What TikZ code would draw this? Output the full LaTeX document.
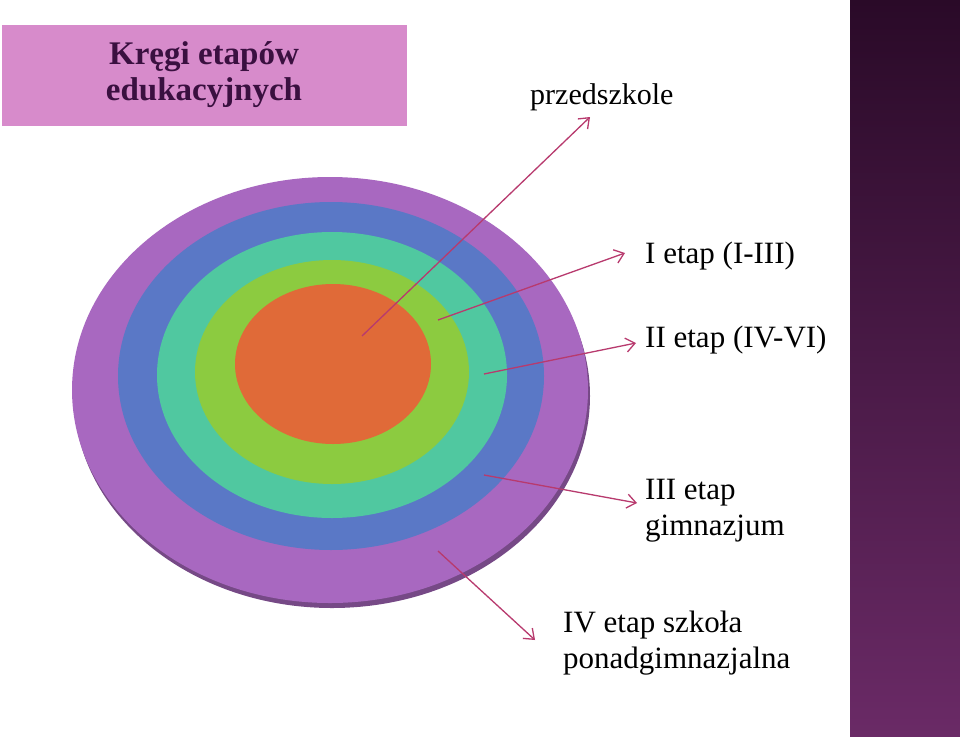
\documentclass[tikz,border=0pt]{standalone}
\usepackage{fontspec}
\setmainfont{Liberation Serif}
\begin{document}
\begin{tikzpicture}[x=1pt,y=-1pt,
  arr/.style={draw=arrowc,line width=1.3pt,-{Straight Barb[length=9pt,width=14pt]}},
  lab/.style={anchor=west,inner sep=0pt,font=\fontsize{31}{36}\selectfont,align=left}]
\usetikzlibrary{arrows.meta}
\definecolor{arrowc}{HTML}{B83A6E}
\definecolor{pinkbox}{HTML}{D78BCB}
\definecolor{titlec}{HTML}{3A1040}
\definecolor{outerc}{HTML}{A868C0}
\definecolor{bluec}{HTML}{5A78C6}
\definecolor{tealc}{HTML}{50C8A0}
\definecolor{greenc}{HTML}{8CCB40}
\definecolor{orangec}{HTML}{E06A38}
\definecolor{stripTop}{HTML}{2A0A28}
\definecolor{stripBot}{HTML}{6A2A66}
\useasboundingbox (0,0) rectangle (960,736);
\fill[white] (0,0) rectangle (960,736);
\shade[top color=stripTop,bottom color=stripBot] (850,0) rectangle (960,736);
\node[fill=pinkbox,minimum width=405pt,minimum height=101pt,anchor=north west,inner sep=0pt] (title) at (2,25) {};
\node[font=\fontsize{33}{36}\selectfont\bfseries,text=titlec,align=center] (tt) at (204,75) {Kręgi etapów\\edukacyjnych};
% disc
\fill[outerc!70!black] (332,396) ellipse [x radius=258, y radius=212];
\fill[outerc] (330,390) ellipse [x radius=258, y radius=213];
\fill[bluec] (331,376) ellipse [x radius=213, y radius=174];
\fill[tealc] (332,375) ellipse [x radius=175, y radius=143];
\fill[greenc] (332,372) ellipse [x radius=137, y radius=112];
\fill[orangec] (333,364) ellipse [x radius=98, y radius=80];
\coordinate (s0) at (362,336);
\coordinate (s1) at (438,320);
\coordinate (s2) at (484,374);
\coordinate (s3) at (484,475);
\coordinate (s4) at (438,551);
\node[lab,font=\fontsize{30}{34}\selectfont] (l0) at (530,97) {przedszkole};
\node[lab] (l1) at (645,256) {I etap (I-III)};
\node[lab] (l2) at (645,340) {II etap (IV-VI)};
\node[lab] (l3) at (645,511) {III etap\\gimnazjum};
\node[lab] (l4) at (563,643) {IV etap szkoła\\ponadgimnazjalna};
\coordinate (e0) at (590,117);
\coordinate (e1) at (625,253);
\coordinate (e2) at (636,343);
\coordinate (e3) at (637,503);
\coordinate (e4) at (535,640);
\foreach \i in {0,...,4} \draw[arr] (s\i) -- (e\i);
\end{tikzpicture}
\end{document}
